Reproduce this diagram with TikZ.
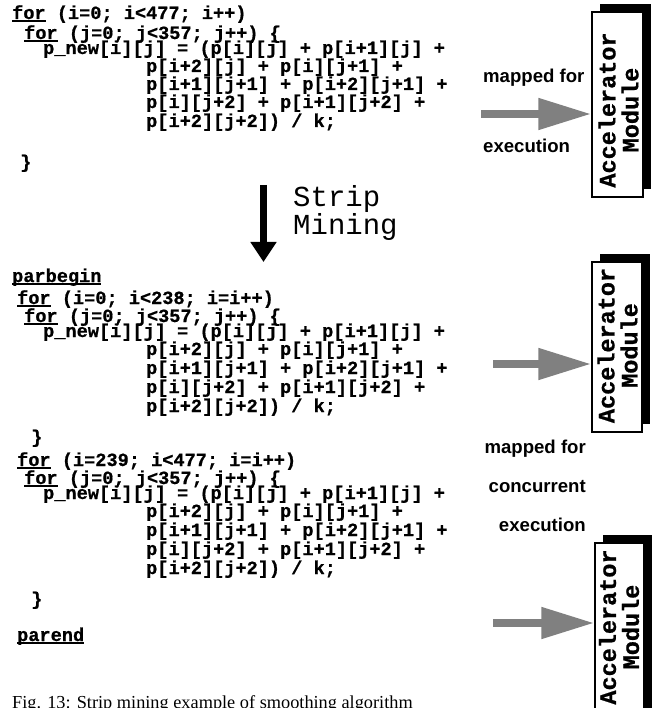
\documentclass[tikz,border=0pt]{standalone}
\usepackage{fontspec}
\setmainfont{Liberation Serif}
\setsansfont{Liberation Sans}
\setmonofont[BoldFeatures={FakeBold=0.8}]{Liberation Mono}
\usetikzlibrary{arrows.meta,shadows}
\newcommand\ulw[1]{\setbox0\hbox{#1}\rlap{\rule[-3pt]{\wd0}{1.6pt}}\box0\relax}
\begin{document}
\begin{tikzpicture}[x=1pt,y=-1pt,
 code/.style={anchor=base west,inner sep=0pt,font=\ttfamily\bfseries\fontsize{18.6}{18}\selectfont},
 lbl/.style={inner sep=0pt,font=\sffamily\bfseries\fontsize{18.6}{20}\selectfont},
 accbox/.style={draw=black,line width=1.5pt,fill=white,minimum width=51pt,inner sep=0pt,
   drop shadow={shadow xshift=8pt,shadow yshift=8pt,fill=black,opacity=1,shadow scale=1}},
 acctext/.style={rotate=90,align=center,inner sep=0pt,font=\ttfamily\bfseries\fontsize{23.5}{23}\selectfont},
 maparrow/.style={draw=black!50,line width=8pt,-{Triangle[length=53pt,width=30pt]}},
 striparrow/.style={draw=black,line width=7pt,-{Triangle[length=20pt,width=25pt]}}
]
\fill[white] (0,0) rectangle (655,708);
\useasboundingbox (0,0) rectangle (655,708);

% top block
\node[code] (c1) at (12,19) {\ulw{for} (i=0; i<477; i++)};
\node[code] (c2) at (24,39) {\ulw{for} (j=0; j<357; j++) \{};
\node[code] (c3) at (43,54) {p\_new[i][j] = (p[i][j] + p[i+1][j] +};
\node[code] (c4) at (146,72) {p[i+2][j] + p[i][j+1] +};
\node[code] (c5) at (146,90) {p[i+1][j+1] + p[i+2][j+1] +};
\node[code] (c6) at (146,108) {p[i][j+2] + p[i+1][j+2] +};
\node[code] (c7) at (146,127) {p[i+2][j+2]) / k;};
\node[code] (c8) at (20,168) {\}};

% strip mining
\coordinate (sa) at (263.5,185);
\coordinate (sb) at (263.5,262);
\draw[striparrow] (sa) -- (sb);
\node[anchor=base west,inner sep=0pt,align=left,font=\ttfamily\fontsize{29}{28}\selectfont] (sm) at (293,235) {Strip\\Mining};

% middle block
\node[code] (d0) at (12,282) {\ulw{parbegin}};
\node[code] (d1) at (17,304) {\ulw{for} (i=0; i<238; i=i++)};
\node[code] (d2) at (24,322) {\ulw{for} (j=0; j<357; j++) \{};
\node[code] (d3) at (43,337) {p\_new[i][j] = (p[i][j] + p[i+1][j] +};
\node[code] (d4) at (146,355) {p[i+2][j] + p[i][j+1] +};
\node[code] (d5) at (146,374) {p[i+1][j+1] + p[i+2][j+1] +};
\node[code] (d6) at (146,393) {p[i][j+2] + p[i+1][j+2] +};
\node[code] (d7) at (146,412) {p[i+2][j+2]) / k;};
\node[code] (d8) at (31,443) {\}};

% lower block
\node[code] (e1) at (17,466) {\ulw{for} (i=239; i<477; i=i++)};
\node[code] (e2) at (24,484) {\ulw{for} (j=0; j<357; j++) \{};
\node[code] (e3) at (43,499) {p\_new[i][j] = (p[i][j] + p[i+1][j] +};
\node[code] (e4) at (146,517) {p[i+2][j] + p[i][j+1] +};
\node[code] (e5) at (146,536) {p[i+1][j+1] + p[i+2][j+1] +};
\node[code] (e6) at (146,555) {p[i][j+2] + p[i+1][j+2] +};
\node[code] (e7) at (146,574) {p[i+2][j+2]) / k;};
\node[code] (e8) at (31,605) {\}};
\node[code] (e9) at (17,641) {\ulw{parend}};

% accelerator boxes
\node[accbox,minimum height=185pt] (b1) at (617.5,104.5) {};
\node[acctext] (t1) at (618.5,110) {Accelerator\\Module};
\node[accbox,minimum height=170pt,minimum width=50pt] (b2) at (617,347) {};
\node[acctext] (t2) at (617.5,345.5) {Accelerator\\Module};
\node[accbox,minimum height=187pt,minimum width=49pt] (b3) at (619.5,636.5) {};
\node[acctext] (t3) at (619,627) {Accelerator\\Module};

% arrows
\coordinate (s1) at (481,114);
\coordinate (s2) at (493,364);
\coordinate (s3) at (493,623);
\draw[maparrow] (s1) -- (s1 -| b1.west);
\draw[maparrow] (s2) -- (s2 -| b2.west);
\draw[maparrow] (s3) -- (s3 -| b3.west);

% labels
\node[lbl,anchor=base west] (m1) at (483,83) {mapped for};
\node[lbl,anchor=base west] (m2) at (483,153) {execution};
\node[lbl,anchor=base east] (m3) at (586,453) {mapped for};
\node[lbl,anchor=base east] (m4) at (586,492) {concurrent};
\node[lbl,anchor=base east] (m5) at (586,531) {execution};

% caption
\node[anchor=base west,inner sep=0pt,font=\rmfamily\fontsize{18.3}{20}\selectfont] (cap) at (12,708) {Fig. 13: Strip mining example of smoothing algorithm};
\end{tikzpicture}
\end{document}
